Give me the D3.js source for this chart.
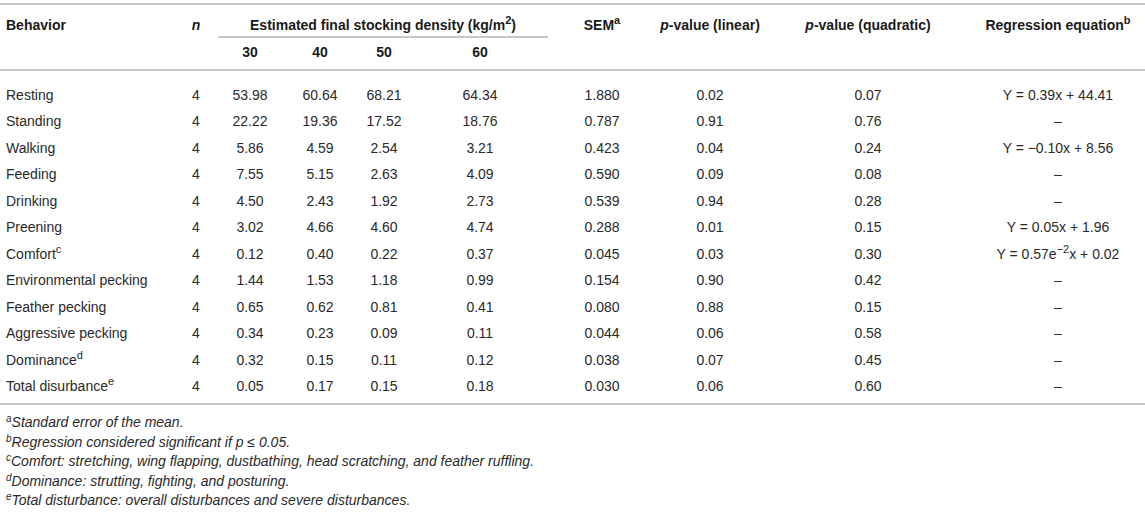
<!DOCTYPE html>
<html>
<head>
<meta charset="utf-8">
<script src="https://cdn.jsdelivr.net/npm/d3@7"></script>
<style>
  body { margin: 0; background: #fff; }
  svg { display: block; font-family: "Liberation Sans", Arial, sans-serif; }
  text { fill: #2a2a2a; font-size: 14px; }
  .head text { font-weight: bold; fill: #1a1a1a; }
  .note { font-style: italic; font-size: 14px; }
</style>
</head>
<body>
<div id="table"></div>
<script>
// table data
const behaviors = ['Resting', 'Standing', 'Walking', 'Feeding', 'Drinking', 'Preening', 'Comfort',
    'Environmental pecking', 'Feather pecking', 'Aggressive pecking', 'Dominance', 'Total disurbance'];
const behaviorNotes = ['', '', '', '', '', '', 'c', '', '', '', 'd', 'e'];
const nValues = [4, 4, 4, 4, 4, 4, 4, 4, 4, 4, 4, 4];
const densities = ['30', '40', '50', '60'];
const density30 = ['53.98', '22.22', '5.86', '7.55', '4.50', '3.02', '0.12', '1.44', '0.65', '0.34', '0.32', '0.05'];
const density40 = ['60.64', '19.36', '4.59', '5.15', '2.43', '4.66', '0.40', '1.53', '0.62', '0.23', '0.15', '0.17'];
const density50 = ['68.21', '17.52', '2.54', '2.63', '1.92', '4.60', '0.22', '1.18', '0.81', '0.09', '0.11', '0.15'];
const density60 = ['64.34', '18.76', '3.21', '4.09', '2.73', '4.74', '0.37', '0.99', '0.41', '0.11', '0.12', '0.18'];
const semValues = ['1.880', '0.787', '0.423', '0.590', '0.539', '0.288', '0.045', '0.154', '0.080', '0.044', '0.038', '0.030'];
const pLinear = ['0.02', '0.91', '0.04', '0.09', '0.94', '0.01', '0.03', '0.90', '0.88', '0.06', '0.07', '0.06'];
const pQuadratic = ['0.07', '0.76', '0.24', '0.08', '0.28', '0.15', '0.30', '0.42', '0.15', '0.58', '0.45', '0.60'];
const regression = ['Y = 0.39x + 44.41', '–', 'Y = −0.10x + 8.56', '–', '–', 'Y = 0.05x + 1.96',
    'Y = 0.57e|−2|x + 0.02', '–', '–', '–', '–', '–'];
const footnotes = [
    ['a', 'Standard error of the mean.'],
    ['b', 'Regression considered significant if p ≤ 0.05.'],
    ['c', 'Comfort: stretching, wing flapping, dustbathing, head scratching, and feather ruffling.'],
    ['d', 'Dominance: strutting, fighting, and posturing.'],
    ['e', 'Total disturbance: overall disturbances and severe disturbances.']
];

const width = 1145;
const height = 512;
const ruleColor = '#b4b4b4';

const svg = d3.select('#table')
    .append('svg')
    .attr('width', width)
    .attr('height', height);

// column centres
const colX = {n: 196, d30: 250, d40: 320, d50: 384, d60: 480, sem: 602, lin: 710, quad: 868, reg: 1058};

const y = d3.scalePoint()
    .domain(d3.range(behaviors.length))
    .range([100, 391]);

// rules
function rule(x1, x2, yy) {
    svg.append('line')
        .attr('x1', x1).attr('x2', x2)
        .attr('y1', yy).attr('y2', yy)
        .attr('stroke', ruleColor)
        .attr('stroke-width', 1.6);
}
rule(0, width, 4);
rule(218, 548, 37);
rule(0, width, 70);
rule(0, width, 404);

// helper to write text with a superscript part
function sup(sel, main, s, opts = {}) {
    sel.append('tspan').text(main);
    if (s) {
        sel.append('tspan')
            .attr('baseline-shift', 'super')
            .style('font-size', opts.size || '11px')
            .text(s);
        if (opts.after) sel.append('tspan').text(opts.after);
    }
    return sel;
}

// header
const head = svg.append('g').attr('class', 'head');
head.append('text').attr('x', 6).attr('y', 30).text('Behavior');
head.append('text').attr('x', colX.n).attr('y', 30).attr('text-anchor', 'middle')
    .style('font-style', 'italic').text('n');
sup(head.append('text').attr('x', 383).attr('y', 30).attr('text-anchor', 'middle'),
    'Estimated final stocking density (kg/m', '2', {after: ')'});
sup(head.append('text').attr('x', colX.sem).attr('y', 30).attr('text-anchor', 'middle'), 'SEM', 'a');
const lin = head.append('text').attr('x', colX.lin).attr('y', 30).attr('text-anchor', 'middle');
lin.append('tspan').style('font-style', 'italic').text('p');
lin.append('tspan').text('-value (linear)');
const quad = head.append('text').attr('x', colX.quad).attr('y', 30).attr('text-anchor', 'middle');
quad.append('tspan').style('font-style', 'italic').text('p');
quad.append('tspan').text('-value (quadratic)');
sup(head.append('text').attr('x', colX.reg).attr('y', 30).attr('text-anchor', 'middle'),
    'Regression equation', 'b');

const densX = [colX.d30, colX.d40, colX.d50, colX.d60];
head.selectAll('.dens')
    .data(densities)
    .join('text')
    .attr('x', (d, i) => densX[i])
    .attr('y', 57)
    .attr('text-anchor', 'middle')
    .text(d => d);

// body rows
const rows = svg.append('g')
    .selectAll('g')
    .data(behaviors)
    .join('g')
    .attr('transform', (d, i) => `translate(0,${y(i)})`);

rows.append('text')
    .attr('x', 6)
    .each(function(d, i) { sup(d3.select(this), d, behaviorNotes[i]); });

const columns = [
    [colX.n, nValues], [colX.d30, density30], [colX.d40, density40], [colX.d50, density50],
    [colX.d60, density60], [colX.sem, semValues], [colX.lin, pLinear], [colX.quad, pQuadratic]
];
columns.forEach(([cx, vals]) => {
    rows.append('text')
        .attr('x', cx)
        .attr('text-anchor', 'middle')
        .text((d, i) => vals[i]);
});

rows.append('text')
    .attr('x', colX.reg)
    .attr('text-anchor', 'middle')
    .each(function(d, i) {
        const parts = regression[i].split('|');
        if (parts.length === 3) sup(d3.select(this), parts[0], parts[1], {after: parts[2]});
        else d3.select(this).text(parts[0]);
    });

// footnotes
svg.append('g')
    .selectAll('text')
    .data(footnotes)
    .join('text')
    .attr('class', 'note')
    .attr('x', 6)
    .attr('y', (d, i) => 427 + i * 19.6)
    .each(function(d) {
        const t = d3.select(this);
        t.append('tspan').attr('baseline-shift', 'super').style('font-size', '10px').text(d[0]);
        t.append('tspan').text(d[1]);
    });
</script>
</body>
</html>
